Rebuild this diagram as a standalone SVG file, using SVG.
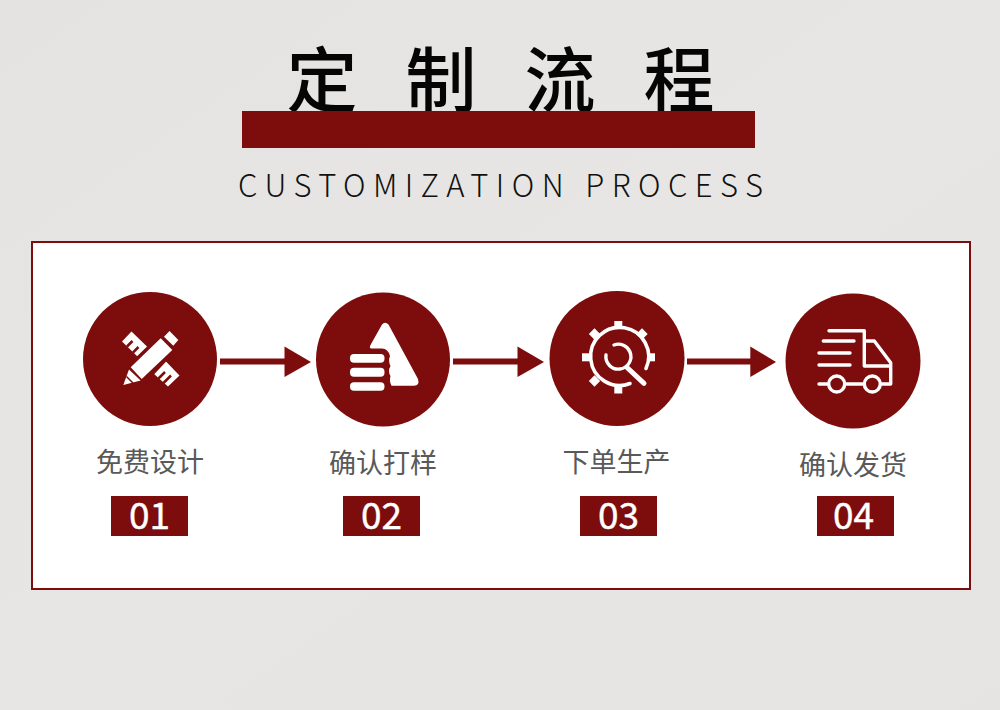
<svg xmlns="http://www.w3.org/2000/svg" width="1000" height="710" viewBox="0 0 1000 710">
<style>
.m{fill:#7c0d0c}
.w{fill:#fff}
.t{font-family:"Noto Sans CJK SC","Noto Sans",sans-serif;text-anchor:middle}
.title{font-size:71px;font-weight:500;fill:#050505}
.lab{font-size:27px;fill:#595959}
.num{font-size:37px;font-weight:400;fill:#fff;stroke:#fff;stroke-width:.4;font-family:"Noto Sans CJK SC","Noto Sans",sans-serif;text-anchor:middle}
.ws{fill:none;stroke:#fff;stroke-linecap:round;stroke-linejoin:round}
.cut{fill:none;stroke:#7c0d0c}
.conn{stroke:#7c0d0c;stroke-width:6;fill:none}
</style>
<defs>
<linearGradient id="bg" x1="0" y1="0" x2="1" y2="1"><stop offset="0" stop-color="#e4e3e1"/><stop offset=".5" stop-color="#e7e6e4"/><stop offset="1" stop-color="#e5e4e2"/></linearGradient>
</defs>
<rect width="1000" height="710" fill="url(#bg)"/>
<g id="header">
<text class="t title" x="322" y="106">定</text>
<text class="t title" x="441" y="106">制</text>
<text class="t title" x="560" y="106">流</text>
<text class="t title" x="679" y="106">程</text>
<rect class="m" x="242" y="111" width="513" height="37"/>
<text x="238" y="197" font-family="Noto Sans CJK SC,Noto Sans,sans-serif" font-weight="200" font-size="31" fill="#111" textLength="525" lengthAdjust="spacing">CUSTOMIZATION PROCESS</text>
</g>
<rect id="panel" x="32" y="242" width="938" height="347" fill="#fff" stroke="#7c0d0c" stroke-width="2"/>
<g id="connectors">
<path class="conn" d="M220 361.500H286"/><path class="m" d="M284.500 346.500L311 362L284.500 377Z"/>
<path class="conn" d="M453 361.500H519"/><path class="m" d="M517.500 346.500L544 362L517.500 377Z"/>
<path class="conn" d="M687 361.500H751"/><path class="m" d="M750.300 346.500L776 362L750.300 377Z"/>
</g>
<g id="node1">
<circle class="m" cx="150" cy="359" r="67"/>
<path class="w" d="M122 341.500L131.500 331.500L148.500 348L139 358Z"/>
<path class="w" d="M153.500 373.500L165 360.500L179.500 375.500L168 386.500Z"/>
<path class="cut" stroke-width="2.500" d="M127 346.500L132.500 341M133 352.500L138.500 347"/>
<path class="cut" stroke-width="2.500" d="M158.500 378.500L165 372M163.500 383L171 375.500"/>
<path class="m" d="M137 380L128 365L160 334L177 350L145 384Z"/>
<path class="w" d="M160.700 338.300L172.300 350L141.700 379L130.700 367.300Z"/>
<path class="w" d="M169.500 331L178.300 340L173.300 345.700L164 336.700Z"/>
<path class="w" d="M129 369.500L140.700 380.500L123.300 385Z"/>
<path class="cut" stroke-width="1.500" d="M126.500 376.500L133 383"/>
</g>
<g id="node2">
<circle class="m" cx="383" cy="359.500" r="67"/>
<path class="w" d="M382 324.500Q385 321 388.500 324.500L418 379Q420 385.700 414 385.700H391.500Q389 381 390.500 376Q387.500 371 390.500 366Q388 361 390 356Q388 348.500 382 348.500H371Q369 348 370.500 345Z"/>
<rect class="w" x="350" y="354" width="34.500" height="8.700" rx="4"/>
<rect class="w" x="350" y="367.700" width="34.500" height="9" rx="4"/>
<rect class="w" x="350" y="382.300" width="34.500" height="8.400" rx="4"/>
</g>
<g id="node3">
<circle class="m" cx="617" cy="358.500" r="67.500"/>
<path class="ws" stroke-width="3.600" d="M646 368.500A29 29 0 1 0 630 383.500"/>
<g class="w">
<rect x="614.300" y="321" width="8" height="8"/>
<rect x="614.300" y="385.500" width="8" height="8"/>
<rect x="582" y="353.300" width="8" height="8"/>
<rect x="647" y="353.300" width="8" height="8"/>
<rect x="590.500" y="330" width="8" height="8" transform="rotate(45 594.500 334)"/>
<rect x="638" y="330" width="8" height="8" transform="rotate(45 642 334)"/>
<rect x="590.500" y="377" width="8" height="8" transform="rotate(45 594.500 381)"/>
</g>
<path class="ws" stroke-width="3.400" d="M606 355A12.500 12.500 0 1 0 630 352A12.500 12.500 0 0 0 614 345"/>
<path class="ws" stroke-width="5" d="M627 367.500L644 383.300"/>
</g>
<g id="node4">
<circle class="m" cx="853" cy="361" r="67.500"/>
<path class="ws" stroke-width="3.400" d="M829 330.700H864.300V366H890.700M864.300 341H874.300L890.700 362.700V384H881M823.300 341H854M819 353H850M819 365H850M819 384H828M845 384H864"/>
<circle class="ws" stroke-width="3.400" cx="836.700" cy="384" r="8"/>
<circle class="ws" stroke-width="3.400" cx="872.300" cy="384" r="8"/>
</g>
<g id="label1"><text class="t lab" x="150" y="472">免费设计</text><rect class="m" x="111" y="496" width="77" height="40"/><text class="num" x="149.500" y="528.500">01</text></g>
<g id="label2"><text class="t lab" x="383" y="473">确认打样</text><rect class="m" x="343" y="496" width="77" height="40"/><text class="num" x="381.500" y="528.500">02</text></g>
<g id="label3"><text class="t lab" x="616.500" y="472">下单生产</text><rect class="m" x="580" y="496" width="77" height="40"/><text class="num" x="618.500" y="528.500">03</text></g>
<g id="label4"><text class="t lab" x="853" y="475">确认发货</text><rect class="m" x="817" y="496" width="77" height="40"/><text class="num" x="853.500" y="528.500">04</text></g>
</svg>
